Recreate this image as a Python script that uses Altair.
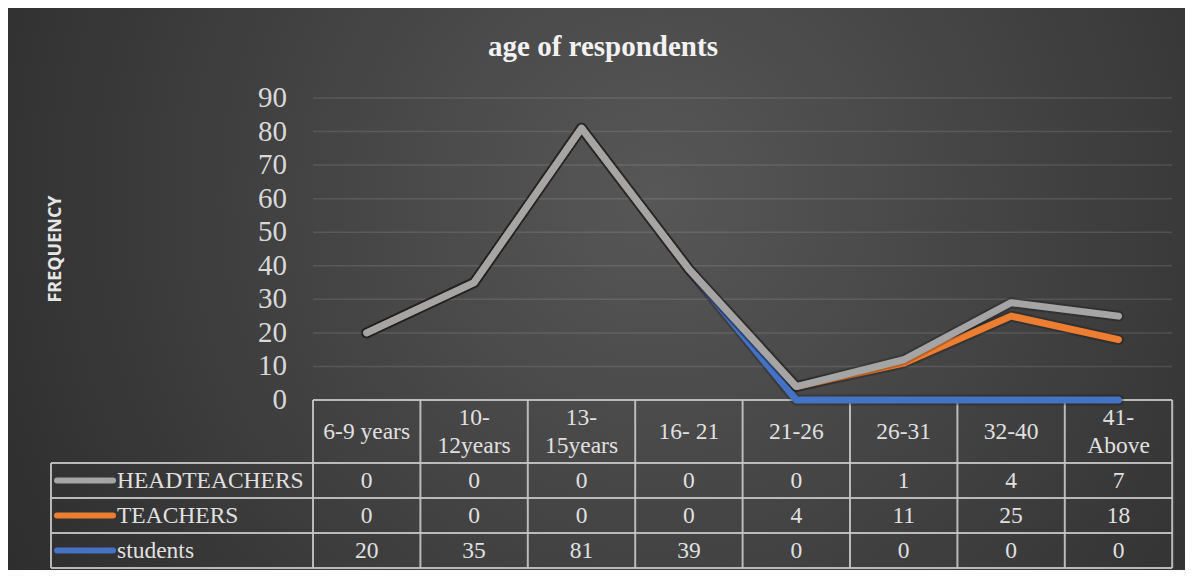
import altair as alt
import pandas as pd

# ---- data ----
categories = ["6-9 years", "10-\n12years", "13-\n15years", "16- 21",
              "21-26", "26-31", "32-40", "41-\nAbove"]
series_names = ["HEADTEACHERS", "TEACHERS", "students"]
headteachers = [0, 0, 0, 0, 0, 1, 4, 7]
teachers = [0, 0, 0, 0, 4, 11, 25, 18]
students = [20, 35, 81, 39, 0, 0, 0, 0]
y_ticks = [0, 10, 20, 30, 40, 50, 60, 70, 80, 90]
series_colors = ["#a5a5a5", "#ed7d31", "#4472c4"]
title_text = "age of respondents"
y_title = "FREQUENCY"

# ---- layout (pixels of the picture) ----
W, H = 1177, 562
OFF = 8
PLOT_LEFT = 313
CAT_W = 107.4
Y0, Y90 = 400, 98
PXU = (Y0 - Y90) / 90.0
ROW_EDGES = [400, 463, 498, 533, 568]
TABLE_LEFT = 51
LINE_H = 28


def dx(ix):
    return (ix - PLOT_LEFT) / CAT_W


def dy(iy):
    return (Y0 - iy) / PXU


x_scale = alt.Scale(domain=[dx(OFF), dx(OFF + W)], nice=False, zero=False)
y_scale = alt.Scale(domain=[dy(OFF + H), dy(OFF)], nice=False, zero=False)
color_scale = alt.Scale(domain=series_names, range=series_colors)

row_of = {"HEADTEACHERS": 1, "TEACHERS": 2, "students": 3}


def row_center(name):
    r = row_of[name]
    return dy((ROW_EDGES[r] + ROW_EDGES[r + 1]) / 2.0)


rows = []
for sidx, (name, vals) in enumerate([("students", students),
                                     ("TEACHERS", teachers),
                                     ("HEADTEACHERS", headteachers)]):
    for i, (c, v) in enumerate(zip(categories, vals)):
        rows.append(dict(series=name, sidx=sidx, idx=i, xc=i + 0.5,
                         cat=c, value=v, ty=row_center(name)))
df = pd.DataFrame(rows)

X = lambda f: alt.X(f, scale=x_scale, axis=None)
Y = lambda f: alt.Y(f, scale=y_scale, axis=None)

# background
bg = alt.Chart(pd.DataFrame({"a": [0]})).mark_rect(
    fill={"gradient": "radial", "x1": 0.55, "y1": 0.42, "r1": 0,
          "x2": 0.55, "y2": 0.42, "r2": 0.78,
          "stops": [{"offset": 0, "color": "#575757"},
                    {"offset": 1, "color": "#242424"}]}
).encode(x=alt.value(0), x2=alt.value(W), y=alt.value(0), y2=alt.value(H))

# gridlines
grid_df = pd.DataFrame({"y": y_ticks[1:], "x": 0, "x2": len(categories)})
grid = alt.Chart(grid_df).mark_rule(color="#ffffff", opacity=0.11,
                                    strokeWidth=1.5).encode(
    x=X("x:Q"), x2="x2:Q", y=Y("y:Q"))

# y tick labels
ytick_df = pd.DataFrame({"v": y_ticks, "lx": dx(287)})
yticks = alt.Chart(ytick_df).mark_text(
    font="Liberation Serif", fontSize=29, color="#d9d9d9",
    align="right", baseline="middle").encode(
    x=X("lx:Q"), y=Y("v:Q"), text="v:Q")

# table lines
n = len(categories)
xl = dx(TABLE_LEFT)
segs = [dict(x=0, x2=n, y=dy(ROW_EDGES[0]), y2=dy(ROW_EDGES[0]))]
for e in ROW_EDGES[1:]:
    segs.append(dict(x=xl, x2=n, y=dy(e), y2=dy(e)))
for k in range(n + 1):
    segs.append(dict(x=k, x2=k, y=dy(ROW_EDGES[0]), y2=dy(ROW_EDGES[-1])))
segs.append(dict(x=xl, x2=xl, y=dy(ROW_EDGES[1]), y2=dy(ROW_EDGES[-1])))
table_lines = alt.Chart(pd.DataFrame(segs)).mark_rule(
    color="#c8c8c8", strokeWidth=2, opacity=0.9).encode(
    x=X("x:Q"), x2="x2:Q", y=Y("y:Q"), y2="y2:Q")

txt_style = dict(font="Liberation Serif", fontSize=23.5, color="#e0e0e0")

head_center = dy((ROW_EDGES[0] + ROW_EDGES[1]) / 2.0)
single = [(c, i + 0.5) for i, c in enumerate(categories) if "\n" not in c]
multi = [(c, i + 0.5) for i, c in enumerate(categories) if "\n" in c]
header1 = alt.Chart(pd.DataFrame(single, columns=["cat", "xc"]).assign(
    ty=head_center)).mark_text(baseline="middle", align="center",
                               **txt_style).encode(
    x=X("xc:Q"), y=Y("ty:Q"), text="cat:N")
header2 = alt.Chart(pd.DataFrame(multi, columns=["cat", "xc"]).assign(
    ty=head_center)).mark_text(lineBreak="\n", lineHeight=LINE_H,
                               baseline="middle", align="center",
                               dy=-LINE_H / 2, **txt_style).encode(
    x=X("xc:Q"), y=Y("ty:Q"), text="cat:N")

values = alt.Chart(df).mark_text(baseline="middle", align="center",
                                 **txt_style).encode(
    x=X("xc:Q"), y=Y("ty:Q"), text="value:Q")

lab_df = pd.DataFrame({"series": series_names,
                       "ty": [row_center(s) for s in series_names],
                       "lx": dx(117), "sx": dx(57), "sx2": dx(113)})
labels = alt.Chart(lab_df).mark_text(baseline="middle", align="left",
                                     **txt_style).encode(
    x=X("lx:Q"), y=Y("ty:Q"), text="series:N")
swatches = alt.Chart(lab_df).mark_rule(strokeWidth=6, strokeCap="round").encode(
    x=X("sx:Q"), x2="sx2:Q", y=Y("ty:Q"),
    color=alt.Color("series:N", scale=color_scale, legend=None))

# stacked lines (with a soft dark shadow under each)
base = alt.Chart(df).transform_stack(
    stack="value", groupby=["idx"], as_=["y0", "y1"],
    sort=[alt.SortField("sidx", order="ascending")])
line_layers = []
for name in ["students", "TEACHERS", "HEADTEACHERS"]:
    sub = base.transform_filter(alt.datum.series == name)
    line_layers.append(
        sub.mark_line(strokeWidth=11, strokeCap="round", strokeJoin="round",
                      color="#000000", opacity=0.22).encode(
            x=X("xc:Q"), y=Y("y1:Q")))
    line_layers.append(
        sub.mark_line(strokeWidth=7, strokeCap="round", strokeJoin="round").encode(
            x=X("xc:Q"), y=Y("y1:Q"),
            color=alt.Color("series:N", scale=color_scale, legend=None)))

title = alt.Chart(pd.DataFrame({"t": [title_text]})).mark_text(
    font="Liberation Serif", fontSize=29, fontWeight="bold", color="#f2f2f2",
    align="center", baseline="middle").encode(
    text="t:N", x=alt.value(603 - OFF), y=alt.value(47 - OFF))

ytitle = alt.Chart(pd.DataFrame({"t": [y_title]})).mark_text(
    font="Open Sans", fontSize=18, fontWeight="bold", color="#e6e6e6",
    align="center", baseline="middle", angle=270).encode(
    text="t:N", x=alt.value(56 - OFF), y=alt.value(249 - OFF))

chart = alt.layer(bg, grid, yticks, table_lines, header1, header2, values,
                  labels, swatches, *line_layers, title, ytitle).properties(
    width=W, height=H, padding=0,
    autosize=alt.AutoSizeParams(type="none")
).configure_view(stroke=None)

chart.save("out.html", embed_options={"renderer": "svg", "actions": False})
